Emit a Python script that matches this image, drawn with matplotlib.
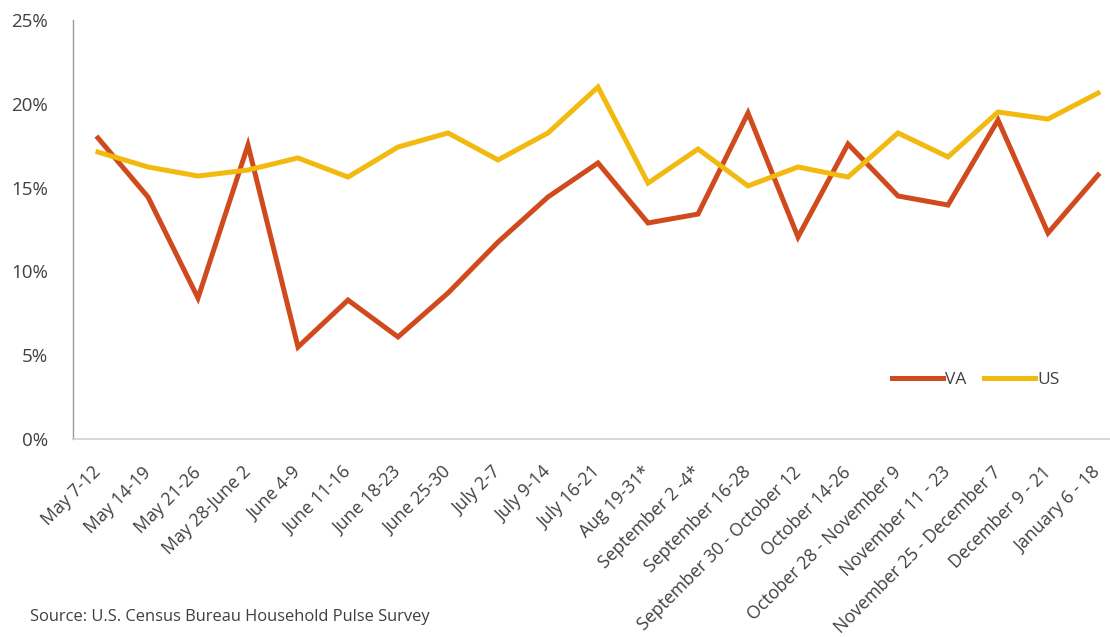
import matplotlib
matplotlib.use("Agg")
import matplotlib.pyplot as plt
from matplotlib.ticker import FuncFormatter, MultipleLocator

categories = ["May 7-12", "May 14-19", "May 21-26", "May 28-June 2", "June 4-9",
              "June 11-16", "June 18-23", "June 25-30", "July 2-7", "July 9-14",
              "July 16-21", "Aug 19-31*", "September 2 -4*", "September 16-28",
              "September 30 - October 12", "October 14-26", "October 28 - November 9",
              "November 11 - 23", "November 25 - December 7", "December 9 - 21",
              "January 6 - 18"]
va = [17.96, 14.44, 8.41, 17.54, 5.49, 8.29, 6.09, 8.71, 11.75, 14.44, 16.47,
      12.89, 13.42, 19.45, 12.05, 17.6, 14.5, 13.96, 19.03, 12.29, 15.75]
us = [17.12, 16.23, 15.69, 16.05, 16.77, 15.63, 17.42, 18.26, 16.65, 18.26, 21.0,
      15.27, 17.3, 15.1, 16.23, 15.63, 18.26, 16.83, 19.51, 19.09, 20.64]

plt.rcParams['font.family'] = ['Open Sans', 'DejaVu Sans']

fig = plt.figure(figsize=(11.10, 6.37), dpi=100)
ax = fig.add_axes([73/1110, 1-439/637, 1050/1110, 419/637])

x = list(range(len(categories)))
ax.plot(x, va, color='#D04A1E', lw=3.6, label='VA', solid_joinstyle='miter')
ax.plot(x, us, color='#F2B90F', lw=3.6, label='US', solid_joinstyle='miter')

ax.set_xlim(-0.5, len(categories) - 0.5)
ax.set_ylim(0, 25)
ax.yaxis.set_major_locator(MultipleLocator(5))
ax.yaxis.set_major_formatter(FuncFormatter(lambda v, p: f"{v:.0f}%"))
ax.set_xticks(x)
ax.set_xticklabels(categories, rotation=45, ha='right', va='center',
                   rotation_mode='anchor')
ax.tick_params(axis='both', length=0, colors='#404040', labelsize=12.8)
ax.tick_params(axis='y', pad=18, labelsize=13.5)
ax.tick_params(axis='x', pad=22)

for s in ['top', 'right']:
    ax.spines[s].set_visible(False)
ax.spines['left'].set_color('#9A9A9A')
ax.spines['bottom'].set_color('#D0D0D0')
ax.spines['left'].set_linewidth(1.0)
ax.spines['bottom'].set_linewidth(1.2)

leg = ax.legend(loc='center', bbox_to_anchor=(976/1110, 1-380/637),
                bbox_transform=fig.transFigure, ncol=2, frameon=False,
                fontsize=12.5, handlelength=2.9, handletextpad=0.15,
                columnspacing=1.0)
for t in leg.get_texts():
    t.set_color('#404040')

fig.text(30/1110, 1-617/637, "Source: U.S. Census Bureau Household Pulse Survey",
         fontsize=11.9, color='#404040', va='center', ha='left')

fig.savefig('out.png', dpi=100, facecolor='white')
